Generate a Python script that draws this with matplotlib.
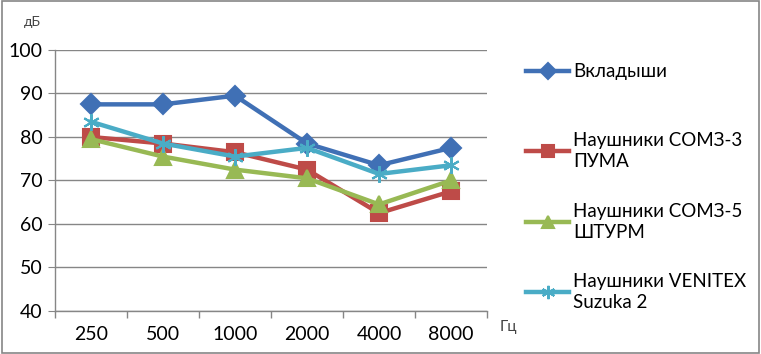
import matplotlib.pyplot as plt
import matplotlib.patches as patches
import numpy as np

freqs = ['250', '500', '1000', '2000', '4000', '8000']
vkladyshi = [87.5, 87.5, 89.5, 78.5, 73.5, 77.5]
puma = [80, 78.5, 76.5, 72.5, 62.5, 67.5]
shturm = [79.5, 75.5, 72.5, 70.5, 64.5, 70]
venitex = [83.5, 78.5, 75.5, 77.5, 71.5, 73.5]

labels = ['Вкладыши', 'Наушники СОМЗ-3\nПУМА', 'Наушники СОМЗ-5\nШТУРМ', 'Наушники VENITEX\nSuzuka 2']
colors = ['#4070B5', '#BE4B48', '#98B954', '#4AACC6']
markers = ['D', 's', '^', (6, 2, 0)]
msizes = [10, 11, 11, 12]

plt.rcParams['font.family'] = ['Lato', 'DejaVu Sans']

fig = plt.figure(figsize=(7.61, 3.54), dpi=100)
ax = fig.add_axes([0.0723, 0.1215, 0.5677, 0.7373])

x = np.arange(len(freqs))
handles = []
for vals, c, m, ms in zip([vkladyshi, puma, shturm, venitex], colors, markers, msizes):
    h, = ax.plot(x, vals, color=c, lw=3.2, marker=m, markersize=ms,
                 markeredgewidth=1.5, markeredgecolor=c, markerfacecolor=c)
    handles.append(h)

ax.set_xlim(-0.5, 5.5)
ax.set_ylim(40, 100)
ax.set_yticks(range(40, 101, 10))
ax.set_xticks(x)
ax.set_xticklabels(freqs)
ax.set_xticks(np.arange(-0.5, 5.6, 1), minor=True)
ax.tick_params(axis='x', which='major', length=0, pad=11, labelsize=14)
ax.tick_params(axis='x', which='minor', length=5, color='#868686', width=1)
ax.tick_params(axis='y', length=5, color='#868686', labelsize=14, pad=4)
ax.yaxis.grid(True, color='#868686', lw=1)
ax.set_axisbelow(True)
for s in ['top', 'right']:
    ax.spines[s].set_visible(False)
for s in ['left', 'bottom']:
    ax.spines[s].set_color('#868686')
    ax.spines[s].set_linewidth(1)

fig.text(24 / 761, 1 - 22 / 354, 'дБ', fontsize=10, ha='left', va='center', color='#444444')
fig.text(500 / 761, 1 - 327 / 354, 'Гц', fontsize=11, ha='left', va='center', color='#444444')

# legend, one entry at a time so spacing matches
ycent = [72, 151, 222, 292]
for h, lab, yc in zip(handles, labels, ycent):
    lg = fig.legend([h], [lab], loc='center left', bbox_to_anchor=(526 / 761, 1 - yc / 354),
                    frameon=False, fontsize=13.5, handlelength=2.3, handletextpad=0.2,
                    borderaxespad=0, borderpad=0, markerscale=0.8)
    for t in lg.get_texts():
        t.set_linespacing(1.35)

fig.patches.append(patches.Rectangle((0.002, 0.004), 0.996, 0.992, transform=fig.transFigure,
                                     fill=False, edgecolor='#868686', lw=1.2))

fig.savefig('out.png', dpi=100)
